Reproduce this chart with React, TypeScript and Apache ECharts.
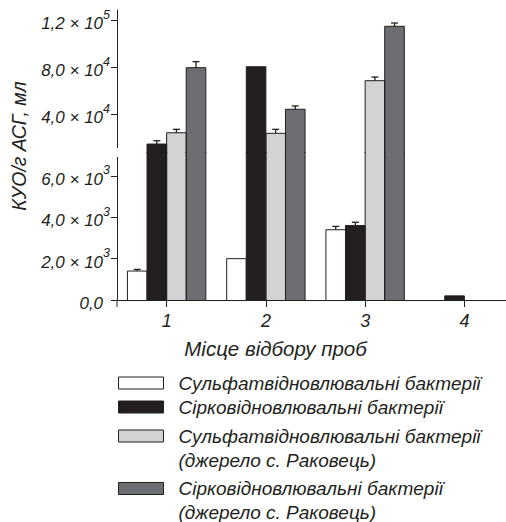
import React, { useEffect, useRef } from 'react';
import * as echarts from 'echarts';

// ---------- data ----------
const sites = ['1', '2', '3', '4'];
const seriesNames = [
  'Сульфатвідновлювальні бактерії',
  'Сірковідновлювальні бактерії',
  'Сульфатвідновлювальні бактерії\n(джерело с. Раковець)',
  'Сірковідновлювальні бактерії\n(джерело с. Раковець)',
];
const srbValues = [1400, 2000, 3400, null];
const sobValues = [14700, 80500, 3600, 200];
const srbRakValues = [24300, 23800, 68600, null];
const sobRakValues = [79700, 44300, 114900, null];
const srbErr = [80, 0, 160, 0];
const sobErr = [2800, 0, 160, 0];
const srbRakErr = [2900, 3400, 3150, 0];
const sobRakErr = [5100, 2800, 2800, 0];
const lowerTicks = [0, 2000, 4000, 6000];
const upperTicks = [40000, 80000, 120000];
const xAxisTitle = 'Місце відбору проб';
const yAxisTitle = 'КУО/г АСГ, мл';

// ---------- styles / layout ----------
const W = 506;
const H = 522;
const INK = '#231f20';
const COLORS = ['#ffffff', '#231f20', '#d1d3d4', '#6d6e71'];
const FONT = '"Liberation Sans", Arial, Helvetica, sans-serif';
const BAR_W = 19.6;
const GRID_LEFT = 117;
const AXIS_RIGHT_X = 514;
const ZERO_Y = 300;
const LOWER_TOP_Y = 152;
const UPPER_BOTTOM_Y = 153;
const TOP_Y = 10;
const LOWER_MAX = 7160;
const UPPER_MIN = 7070;
const UPPER_MAX = 128770;

const allValues = [srbValues, sobValues, srbRakValues, sobRakValues];
const allErr = [srbErr, sobErr, srbRakErr, sobRakErr];

function sci(v: number): string {
  if (v === 0) return '{b|0,0}{s|\u2007}';
  const e = Math.floor(Math.log10(v) + 1e-9);
  const m = (v / Math.pow(10, e)).toFixed(1).replace('.', ',');
  return `{b|${m} × 10}{s|${e}}`;
}

const labelRich = {
  b: { fontSize: 17, fontStyle: 'italic', fontFamily: FONT, color: INK, lineHeight: 24, verticalAlign: 'bottom' },
  s: { fontSize: 12.5, fontStyle: 'italic', fontFamily: FONT, color: INK, lineHeight: 14, verticalAlign: 'top' },
};

function customData(filter: (v: number) => boolean) {
  const out: number[][] = [];
  allValues.forEach((arr, s) => {
    arr.forEach((v, c) => {
      if (v != null && filter(v)) out.push([c, v, allErr[s][c], s]);
    });
  });
  return out;
}

function renderItem(params: any, api: any) {
  const c = api.value(0);
  const v = api.value(1);
  const e = api.value(2);
  const s = api.value(3);
  const top = api.coord([c, v]);
  const base = api.coord([c, 0]);
  const cx = top[0] + (s - 1.5) * BAR_W;
  const x0 = cx - BAR_W / 2;
  const x1 = cx + BAR_W / 2;
  const children: any[] = [
    {
      type: 'polyline',
      shape: { points: [[x0, base[1]], [x0, top[1]], [x1, top[1]], [x1, base[1]]] },
      style: { stroke: INK, lineWidth: 1, fill: null },
    },
  ];
  if (e > 0) {
    const ey = api.coord([c, v + e])[1];
    children.push({ type: 'line', shape: { x1: cx, y1: top[1], x2: cx, y2: ey }, style: { stroke: INK, lineWidth: 1.3 } });
    children.push({ type: 'line', shape: { x1: cx - 3.5, y1: ey, x2: cx + 3.5, y2: ey }, style: { stroke: INK, lineWidth: 1.3 } });
  }
  return { type: 'group', children };
}

export default function App() {
  const ref = useRef<HTMLDivElement>(null);
  useEffect(() => {
    const chart = echarts.init(ref.current!, null, { renderer: 'svg' });

    const barSeries: any[] = [];
    [0, 1].forEach((g) => {
      allValues.forEach((arr, s) => {
        barSeries.push({
          type: 'bar',
          name: seriesNames[s],
          xAxisIndex: g,
          yAxisIndex: g,
          barWidth: BAR_W,
          barGap: '0%',
          clip: true,
          silent: true,
          itemStyle: { color: COLORS[s], borderWidth: 0 },
          data: g === 0 ? arr : arr.map((v) => (v != null && v > UPPER_MIN ? v : null)),
        });
      });
    });

    const customSeries = [
      {
        type: 'custom',
        xAxisIndex: 0,
        yAxisIndex: 0,
        clip: true,
        silent: true,
        z: 5,
        data: customData(() => true),
        renderItem,
      },
      {
        type: 'custom',
        xAxisIndex: 1,
        yAxisIndex: 1,
        clip: true,
        silent: true,
        z: 5,
        data: customData((v) => v > UPPER_MIN),
        renderItem,
      },
    ];

    // icon centre = top + half of the text block height (24 px per line)
    const legendTops = [371, 395, 400, 452.5];
    const legends = seriesNames.map((n, i) => ({
      show: true,
      data: [n],
      left: 118,
      top: legendTops[i],
      padding: 0,
      orient: 'vertical',
      icon: 'rect',
      itemWidth: 45,
      itemHeight: 12,
      selectedMode: false,
      itemStyle: { borderColor: INK, borderWidth: 1 },
      formatter: (name: string) => (name.includes('\n') ? '\u00a0\n' + name : name),
      textStyle: {
        fontSize: 19,
        fontStyle: 'italic',
        fontFamily: FONT,
        color: INK,
        lineHeight: 24,
        padding: [0, 0, 0, 10],
      },
    }));

    const axisLineStyle = { color: INK, width: 1 };

    const option: any = {
      animation: false,
      backgroundColor: '#ffffff',
      grid: [
        { left: GRID_LEFT, right: W - AXIS_RIGHT_X, top: LOWER_TOP_Y, bottom: H - ZERO_Y, outerBoundsMode: 'none', containLabel: false },
        { left: GRID_LEFT, right: W - AXIS_RIGHT_X, top: TOP_Y, bottom: H - UPPER_BOTTOM_Y, outerBoundsMode: 'none', containLabel: false },
      ],
      xAxis: [
        {
          type: 'category',
          gridIndex: 0,
          data: sites,
          axisLine: { show: true, lineStyle: axisLineStyle },
          axisTick: { show: true, alignWithLabel: true, length: 7, lineStyle: axisLineStyle },
          axisLabel: { margin: 12, fontSize: 18, fontStyle: 'italic', fontFamily: FONT, color: INK },
          splitLine: { show: false },
          name: xAxisTitle,
          nameLocation: 'middle',
          nameGap: 38,
          nameTextStyle: { fontSize: 20.5, fontStyle: 'italic', fontFamily: FONT, color: INK, padding: [0, 80, 0, 0] },
        },
        {
          type: 'category',
          gridIndex: 1,
          data: sites,
          show: false,
        },
      ],
      yAxis: [
        {
          type: 'value',
          gridIndex: 0,
          min: 0,
          max: LOWER_MAX,
          axisLine: { show: true, lineStyle: axisLineStyle },
          axisTick: { show: true, length: 6, lineStyle: axisLineStyle, customValues: lowerTicks },
          axisLabel: { margin: 7, customValues: lowerTicks, formatter: (v: number) => sci(v), rich: labelRich },
          splitLine: { show: false },
        },
        {
          type: 'value',
          gridIndex: 1,
          min: UPPER_MIN,
          max: UPPER_MAX,
          axisLine: { show: true, lineStyle: axisLineStyle },
          axisTick: { show: true, length: 6, lineStyle: axisLineStyle, customValues: upperTicks },
          axisLabel: { margin: 7, customValues: upperTicks, formatter: (v: number) => sci(v), rich: labelRich },
          splitLine: { show: false },
        },
      ],
      legend: legends,
      graphic: [
        {
          type: 'rect',
          z: 100,
          shape: { x: 112, y: 148, width: 10, height: 9 },
          style: { fill: '#ffffff' },
          silent: true,
        },
        {
          type: 'line',
          z: 100,
          shape: { x1: GRID_LEFT, y1: ZERO_Y, x2: GRID_LEFT, y2: ZERO_Y + 7 },
          style: { stroke: INK, lineWidth: 1 },
          silent: true,
        },
        {
          type: 'text',
          z: 100,
          x: 19,
          y: 146,
          rotation: Math.PI / 2,
          style: {
            text: yAxisTitle,
            fontSize: 19.5,
            fontStyle: 'italic',
            fontFamily: FONT,
            fill: INK,
            align: 'center',
            verticalAlign: 'middle',
          },
          silent: true,
        },
      ],
      series: [...barSeries, ...customSeries],
    };

    chart.setOption(option);
    return () => chart.dispose();
  }, []);

  return (
    <div
      ref={ref}
      style={{ position: 'fixed', left: 0, top: 0, width: W, height: H, background: '#ffffff' }}
    />
  );
}
